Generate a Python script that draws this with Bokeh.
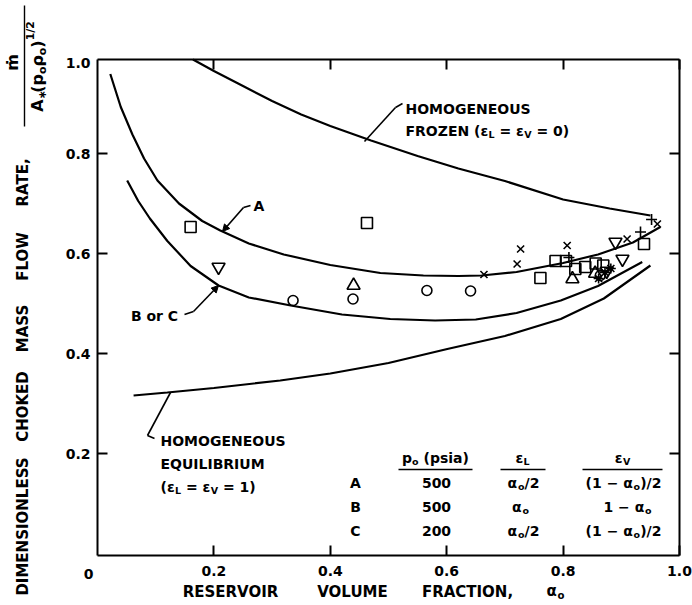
from bokeh.plotting import figure
from bokeh.models import Range1d, LinearAxis, FixedTicker, Label, Arrow, NormalHead
from bokeh.embed import file_html
from bokeh.resources import INLINE

# ---------------- data ----------------
x_ticks = [0.2, 0.4, 0.6, 0.8, 1.0]
y_ticks = [0.2, 0.4, 0.6, 0.8]
x_tick_text = {0.2: "0.2", 0.4: "0.4", 0.6: "0.6", 0.8: "0.8", 1.0: "1.0"}

frozen_x = [0.164, 0.20, 0.25, 0.30, 0.35, 0.40, 0.47, 0.55, 0.62, 0.70, 0.80, 0.88, 0.95]
frozen_y = [0.988, 0.965, 0.935, 0.905, 0.878, 0.855, 0.826, 0.795, 0.770, 0.745, 0.708, 0.690, 0.676]

a_x = [0.022, 0.04, 0.06, 0.08, 0.103, 0.14, 0.18, 0.211, 0.26, 0.32, 0.40, 0.486,
       0.56, 0.62, 0.66, 0.72, 0.80, 0.86, 0.92, 0.967]
a_y = [0.959, 0.893, 0.838, 0.790, 0.746, 0.700, 0.665, 0.646, 0.620, 0.598, 0.577, 0.561,
       0.556, 0.555, 0.556, 0.563, 0.581, 0.598, 0.622, 0.653]

bc_x = [0.051, 0.07, 0.09, 0.12, 0.16, 0.208, 0.26, 0.332, 0.42, 0.503, 0.58, 0.65,
        0.72, 0.796, 0.86, 0.936]
bc_y = [0.746, 0.705, 0.670, 0.625, 0.575, 0.536, 0.512, 0.496, 0.478, 0.469, 0.466, 0.468,
        0.481, 0.506, 0.535, 0.583]

eq_x = [0.062, 0.12, 0.20, 0.314, 0.40, 0.50, 0.601, 0.70, 0.796, 0.87, 0.95]
eq_y = [0.316, 0.322, 0.331, 0.346, 0.360, 0.381, 0.409, 0.435, 0.469, 0.510, 0.576]

sq_x = [0.160, 0.463, 0.761, 0.787, 0.805, 0.821, 0.838, 0.856, 0.869, 0.939]
sq_y = [0.653, 0.661, 0.551, 0.585, 0.585, 0.569, 0.573, 0.580, 0.576, 0.619]

tdn_x = [0.208, 0.890, 0.902, 0.875]
tdn_y = [0.573, 0.623, 0.589, 0.565]

tup_x = [0.440, 0.816, 0.855]
tup_y = [0.536, 0.549, 0.560]

ci_x = [0.336, 0.439, 0.566, 0.641, 0.864]
ci_y = [0.506, 0.509, 0.526, 0.525, 0.556]

xm_x = [0.664, 0.721, 0.727, 0.807, 0.910, 0.962]
xm_y = [0.558, 0.579, 0.609, 0.616, 0.629, 0.659]

pl_x = [0.810, 0.933, 0.952]
pl_y = [0.592, 0.643, 0.668]

st_x = [0.861, 0.872, 0.882]
st_y = [0.550, 0.562, 0.570]

# ---------------- figure ----------------
FONT = "DejaVu Sans"
W, H = 692, 605
# pixel frame of the axes box: x 0..1 -> px 97..679 ; y -> py = 553 - 500*y
X0, XPX = 97.0, 582.0
YB, YPX = 553.0, 500.0


def X(px):
    return (px - X0) / XPX


def Y(py):
    return (YB - py) / YPX


Y_LO, Y_HI = Y(555), Y(59)

p = figure(width=W, height=H, output_backend="svg", toolbar_location=None,
           x_range=Range1d(X(0), X(W)), y_range=Range1d(Y(H), Y(0)),
           x_axis_type=None, y_axis_type=None,
           min_border_left=0, min_border_right=0, min_border_top=0, min_border_bottom=0)
p.outline_line_color = None
p.background_fill_color = "white"
p.border_fill_color = "white"


def mk_axis(ticks, show, loc, bounds):
    ax = LinearAxis(ticker=FixedTicker(ticks=ticks, minor_ticks=[]), fixed_location=loc, bounds=bounds)
    ax.axis_line_color = "black"
    ax.axis_line_width = 2
    ax.major_tick_in = 10
    ax.major_tick_out = 0
    ax.major_tick_line_width = 2
    ax.major_tick_line_color = "black"
    ax.minor_tick_in = 0
    ax.minor_tick_out = 0
    if show:
        ax.major_label_text_font = FONT
        ax.major_label_text_font_style = "bold"
        ax.major_label_text_font_size = "14px"
        ax.major_label_text_color = "black"
    else:
        ax.major_label_overrides = {t: "" for t in ticks}
        ax.major_label_standoff = 0
    return ax


bottom = mk_axis(x_ticks, True, Y_LO, (0, 1))
bottom.major_label_standoff = 10
bottom.major_label_overrides = x_tick_text
left = mk_axis(y_ticks, True, 0, (Y_LO, Y_HI))
left.major_label_standoff = 7
top = mk_axis(x_ticks, False, Y_HI, (0, 1))
right = mk_axis(y_ticks, False, 1.0, (Y_LO, Y_HI))
p.add_layout(bottom, "below")
p.add_layout(left, "left")
p.add_layout(top, "above")
p.add_layout(right, "right")

# curves
for cx, cy in [(frozen_x, frozen_y), (a_x, a_y), (bc_x, bc_y), (eq_x, eq_y)]:
    p.line(cx, cy, line_color="black", line_width=2.2)

# markers
mk = dict(fill_color=None, line_color="black", line_width=1.6)
p.scatter(sq_x, sq_y, marker="square", size=11, **mk)
p.scatter(tdn_x, tdn_y, marker="inverted_triangle", size=13, **mk)
p.scatter(tup_x, tup_y, marker="triangle", size=13, **mk)
p.scatter(ci_x, ci_y, marker="circle", size=10, **mk)
p.scatter(xm_x, xm_y, marker="x", size=10, **mk)
p.scatter(pl_x, pl_y, marker="cross", size=11, **mk)
p.scatter(st_x, st_y, marker="asterisk", size=10, **mk)

# ---------------- text helpers ----------------
WID = {" ": .348, "(": .457, ")": .457, "/": .365, "=": .838, "-": .415, "−": .838, ".": .38, ",": .38,
       "0": .696, "1": .696, "2": .696, "5": .696,
       "A": .774, "B": .762, "C": .734, "D": .83, "E": .683, "F": .683, "G": .821, "H": .837,
       "I": .372, "K": .775, "L": .637, "M": .995, "N": .837, "O": .85, "R": .77, "S": .72,
       "T": .682, "U": .812, "V": .774, "W": 1.103, "Z": .725,
       "a": .675, "i": .343, "o": .687, "p": .716, "s": .595, "r": .493,
       "α": .74, "ε": .58, "ρ": .716, "ṁ": 1.042, "∗": .6}


def tw(s, fs):
    return sum(WID.get(c, .72) for c in s) * fs


def put(text, px, py, fs=14, align="left", angle=0, style="bold"):
    p.add_layout(Label(x=X(px), y=Y(py), text=text, text_font=FONT, text_font_size=f"{fs:.1f}px",
                       text_font_style=style, text_align=align, text_baseline="middle",
                       angle=angle, angle_units="deg", text_color="black"))


def rich(segs, px, py, fs=14, align="left", vertical=False, style="bold"):
    items = []
    for t, k in segs:
        f = fs if k == "n" else fs * 0.68
        items.append((t, k, f, tw(t, f)))
    total = sum(i[3] for i in items)
    cur = -{"left": 0, "center": total / 2, "right": total}[align]
    for t, k, f, w in items:
        lead = (len(t) - len(t.lstrip())) * .348 * f
        d = 0.32 * fs if k == "s" else (-0.42 * fs if k == "u" else 0)
        s = t.strip()
        if s:
            if vertical:
                put(s, px + d, py - cur - lead, f, "left", 90, style)
            else:
                put(s, px + cur + lead, py + d, f, "left", 0, style)
        cur += w


def leader(pts, arrow=False, lw=1.6):
    for i in range(len(pts) - 1):
        (x1, y1), (x2, y2) = pts[i], pts[i + 1]
        end = None
        if arrow and i == len(pts) - 2:
            end = NormalHead(size=7, fill_color="black", line_color="black", line_width=1)
        p.add_layout(Arrow(x_start=X(x1), y_start=Y(y1), x_end=X(x2), y_end=Y(y2),
                           line_color="black", line_width=lw, end=end))


# corner tick labels
put("0", 88, 573, 14, "center")
put("1.0", 90, 62, 14, "right")

# axis titles
for word, cx in [("RESERVOIR", 230), ("VOLUME", 352), ("FRACTION,", 467)]:
    put(word, cx, 591, 15, "center")
rich([("α", "n"), ("o", "s")], 546, 590, 15)

for word, cy in [("DIMENSIONLESS", 526), ("CHOKED", 406), ("MASS", 328), ("FLOW", 256), ("RATE,", 182)]:
    put(word, 22, cy, 15, "center", 90)
# fraction  m_dot / (A*(p_o rho_o)^(1/2))
put("ṁ", 12, 62, 16, "center", 90)
leader([(24, 126), (24, 5)], lw=1.4)
rich([("A", "n"), ("∗", "s"), ("(p", "n"), ("o", "s"), ("ρ", "n"), ("o", "s"), (")", "n"), ("1/2", "u")],
     37, 66, 16, "center", vertical=True)

# curve annotations
put("HOMOGENEOUS", 405, 108, 14)
rich([("FROZEN (ε", "n"), ("L", "s"), (" = ε", "n"), ("V", "s"), (" = 0)", "n")], 405, 130, 14)
leader([(364, 141), (395, 107), (402, 103)])

put("A", 253, 205, 14)
leader([(250, 205), (243, 207), (222, 231)], arrow=True)

put("B or C", 154, 315, 14, "center")
leader([(184, 314), (193, 311), (218, 285)], arrow=True)

put("HOMOGENEOUS", 160, 440, 14)
put("EQUILIBRIUM", 160, 463, 14)
rich([("(ε", "n"), ("L", "s"), (" = ε", "n"), ("V", "s"), (" = 1)", "n")], 160, 486, 14)
leader([(170, 392), (147, 435), (154, 438)])

# table
rich([("p", "n"), ("o", "s"), (" (psia)", "n")], 435, 457, 14, "center")
rich([("ε", "n"), ("L", "s")], 522, 457, 14, "center")
rich([("ε", "n"), ("V", "s")], 622, 457, 14, "center")
leader([(398, 469), (472, 469)])
leader([(500, 469), (545, 469)])
leader([(582, 469), (662, 469)])

rows = [("A", "500", "h", "h"), ("B", "500", "a", "m"), ("C", "200", "h", "h")]
for (lab, pres, el, ev), py in zip(rows, [482, 506, 530]):
    put(lab, 355, py, 14, "center")
    put(pres, 436, py, 14, "center")
    if el == "h":
        rich([("α", "n"), ("o", "s"), ("/2", "n")], 523, py, 14, "center")
    else:
        rich([("α", "n"), ("o", "s")], 520, py, 14, "center")
    if ev == "h":
        rich([("(1 − α", "n"), ("o", "s"), (")/2", "n")], 623, py, 14, "center")
    else:
        rich([("1 − α", "n"), ("o", "s")], 627, py, 14, "center")

open("out.html", "w").write(file_html(p, INLINE))
